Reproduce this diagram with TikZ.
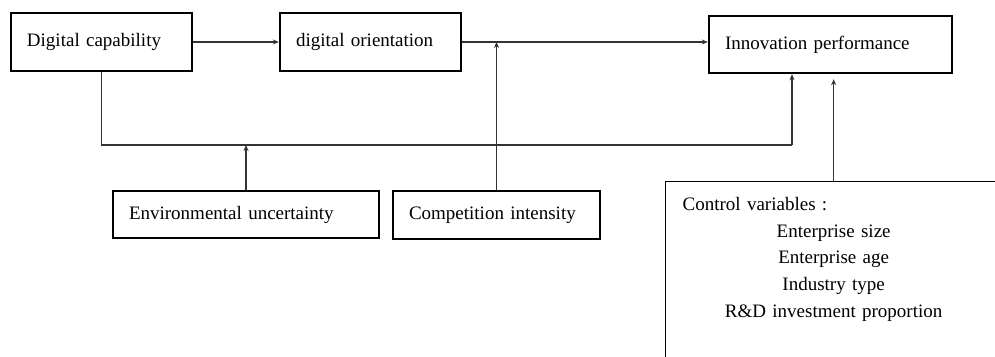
\documentclass[tikz,border=0pt]{standalone}
\usepackage{fontspec}
\setmainfont{Liberation Serif}
\usetikzlibrary{arrows.meta,positioning}

\tikzset{
  varbox/.style={draw, line width=2.4pt, inner xsep=16pt, inner ysep=0pt, align=left,
    font=\fontsize{19}{23}\selectfont},
  conn/.style={line width=1.3pt, draw=black!80, -{Stealth[length=6pt,width=5pt]}},
  line/.style={line width=1.3pt, draw=black!80}
}

\begin{document}
\begin{tikzpicture}[x=1pt,y=-1pt]
  \useasboundingbox (0,0) rectangle (995,356);
  \clip (0,0) rectangle (995,356);

  % upper row
  \node[varbox, text width=149pt, minimum height=58pt] (cap) at (101.5,42) {Digital capability};
  \node[varbox, text width=149pt, minimum height=58pt] (orient) at (370.5,42) {digital orientation};
  \node[varbox, text width=211pt, minimum height=57pt] (perf) at (830.5,44.5) {Innovation performance};

  % moderators
  \node[varbox, text width=234pt, minimum height=47pt] (env) at (246,214.5) {Environmental uncertainty};
  \node[varbox, text width=175pt, minimum height=48pt] (comp) at (496.5,215) {Competition intensity};

  % control variables
  \node[draw, line width=1.3pt, anchor=north west, minimum width=336pt, minimum height=220pt] (ctrl) at (665,181) {};
  \node[anchor=north, inner sep=0pt, align=center, text width=302pt,
    font=\fontsize{19}{26.8}\selectfont] (ctrllist) at ([yshift=-16pt]ctrl.north)
    {\makebox[302pt][l]{Control variables :}\\ Enterprise size\\ Enterprise age\\ Industry type\\ R\&D investment proportion};

  \coordinate (join) at (792,145);

  \draw[conn] (cap) -- (orient);
  \draw[conn] (orient.east) -- (orient.east -| perf.west);
  \draw[conn] (comp.north) -- (comp.north |- orient.east);
  \draw[line] (cap.south) |- (join);
  \draw[conn] (join) -- (join |- perf.south);
  \draw[conn] (env.north) -- (env.north |- join);
  \draw[conn, shorten >=5pt] (ctrl.north) -- (ctrl.north |- perf.south);
\end{tikzpicture}
\end{document}
